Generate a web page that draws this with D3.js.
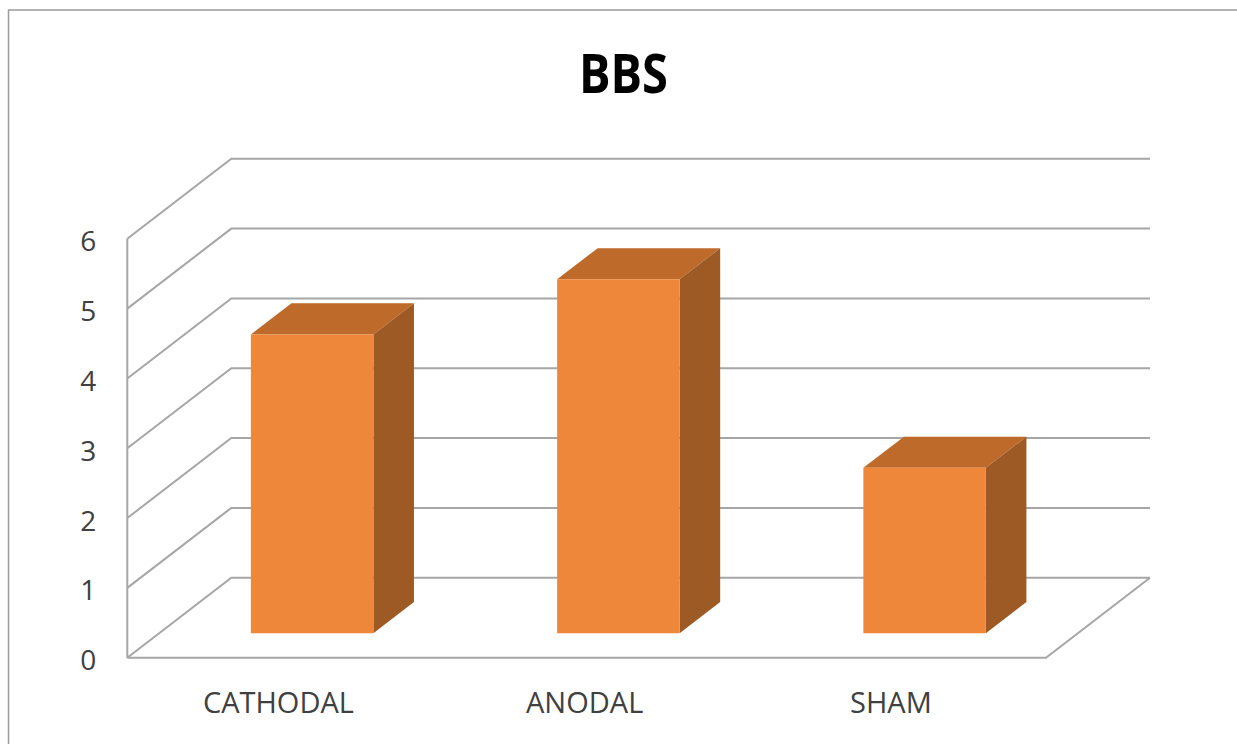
<!DOCTYPE html>
<html>
<head>
<meta charset="utf-8">
<script src="https://cdn.jsdelivr.net/npm/d3@7"></script>
<style>
  body { margin: 0; background: #fff; }
  svg { display: block; }
</style>
</head>
<body>
<div id="chart"></div>
<script>
const categories = ["CATHODAL", "ANODAL", "SHAM"];
const values = [4.28, 5.07, 2.37];
const yTicks = [0, 1, 2, 3, 4, 5, 6];
const title = "BBS";

const width = 1237, height = 744;
const svg = d3.select("#chart").append("svg")
    .attr("width", width)
    .attr("height", height);

// chart border (top and left only visible)
svg.append("path")
    .attr("d", "M8.5,744 L8.5,10 L1237,10")
    .attr("fill", "none")
    .attr("stroke", "#9a9a9a")
    .attr("stroke-width", 1.5);

// front plane scales + oblique depth offset
const x = d3.scaleBand()
    .domain(categories)
    .range([127.3, 1046])
    .paddingInner(0.6)
    .paddingOuter(0.3);
const y = d3.scaleLinear().domain([0, 6]).range([657.7, 238.8]);
const depthX = d3.scaleLinear().domain([0, 1]).range([0, 104]);
const depthY = d3.scaleLinear().domain([0, 1]).range([0, -80]);

const x0 = x.range()[0], x1 = x.range()[1];
const P = (px, v, d) => [px + depthX(d), y(v) + depthY(d)];
const line = d3.line();

const gridColor = "#a6a6a6";

// side wall diagonals + back wall gridlines
const grid = svg.append("g").attr("fill", "none").attr("stroke", gridColor).attr("stroke-width", 2);
yTicks.forEach(t => {
    grid.append("path").attr("d", line([P(x0, t, 0), P(x0, t, 1), P(x1, t, 1)]));
});
// left wall front edge
grid.append("path").attr("d", line([P(x0, 0, 0), P(x0, 6, 0)]));
// floor front + right edge
grid.append("path").attr("d", line([P(x0, 0, 0), P(x1, 0, 0), P(x1, 0, 1)]));

// 3D bars
const d0 = 0.305, d1 = 0.695;
const bw = x.bandwidth();
const bars = svg.append("g").selectAll("g")
    .data(categories.map((c, i) => ({ c, v: values[i] })))
    .enter().append("g");

// top face
bars.append("path")
    .attr("fill", "#bd6a2b")
    .attr("d", d => line([P(x(d.c), d.v, d0), P(x(d.c), d.v, d1), P(x(d.c) + bw, d.v, d1), P(x(d.c) + bw, d.v, d0)]) + "Z");
// side face
bars.append("path")
    .attr("fill", "#9e5a24")
    .attr("d", d => line([P(x(d.c) + bw, 0, d0), P(x(d.c) + bw, d.v, d0), P(x(d.c) + bw, d.v, d1), P(x(d.c) + bw, 0, d1)]) + "Z");
// front face
bars.append("path")
    .attr("fill", "#ee873a")
    .attr("d", d => line([P(x(d.c), 0, d0), P(x(d.c), d.v, d0), P(x(d.c) + bw, d.v, d0), P(x(d.c) + bw, 0, d0)]) + "Z");

// y axis labels
const yAxis = svg.append("g")
    .attr("transform", `translate(${x0 - 31},3)`)
    .call(d3.axisLeft(y).tickValues(yTicks).tickFormat(d3.format("d")).tickSize(0).tickPadding(0));
yAxis.select(".domain").remove();
yAxis.selectAll("text")
    .attr("font-family", "'Open Sans', sans-serif")
    .attr("font-size", 28)
    .attr("fill", "#404040");

// category labels
const xAxis = svg.append("g")
    .attr("transform", "translate(-2,692)")
    .call(d3.axisBottom(x).tickSize(0).tickPadding(0));
xAxis.select(".domain").remove();
xAxis.selectAll("text")
    .attr("font-family", "'Open Sans', sans-serif")
    .attr("font-size", 29)
    .attr("fill", "#404040");

// title
svg.append("text")
    .attr("x", 623.5)
    .attr("y", 93)
    .attr("text-anchor", "middle")
    .attr("font-family", "'Open Sans', sans-serif")
    .attr("font-weight", "bold")
    .attr("font-size", 53)
    .attr("textLength", 89)
    .attr("lengthAdjust", "spacingAndGlyphs")
    .attr("fill", "#000")
    .text(title);
</script>
</body>
</html>
